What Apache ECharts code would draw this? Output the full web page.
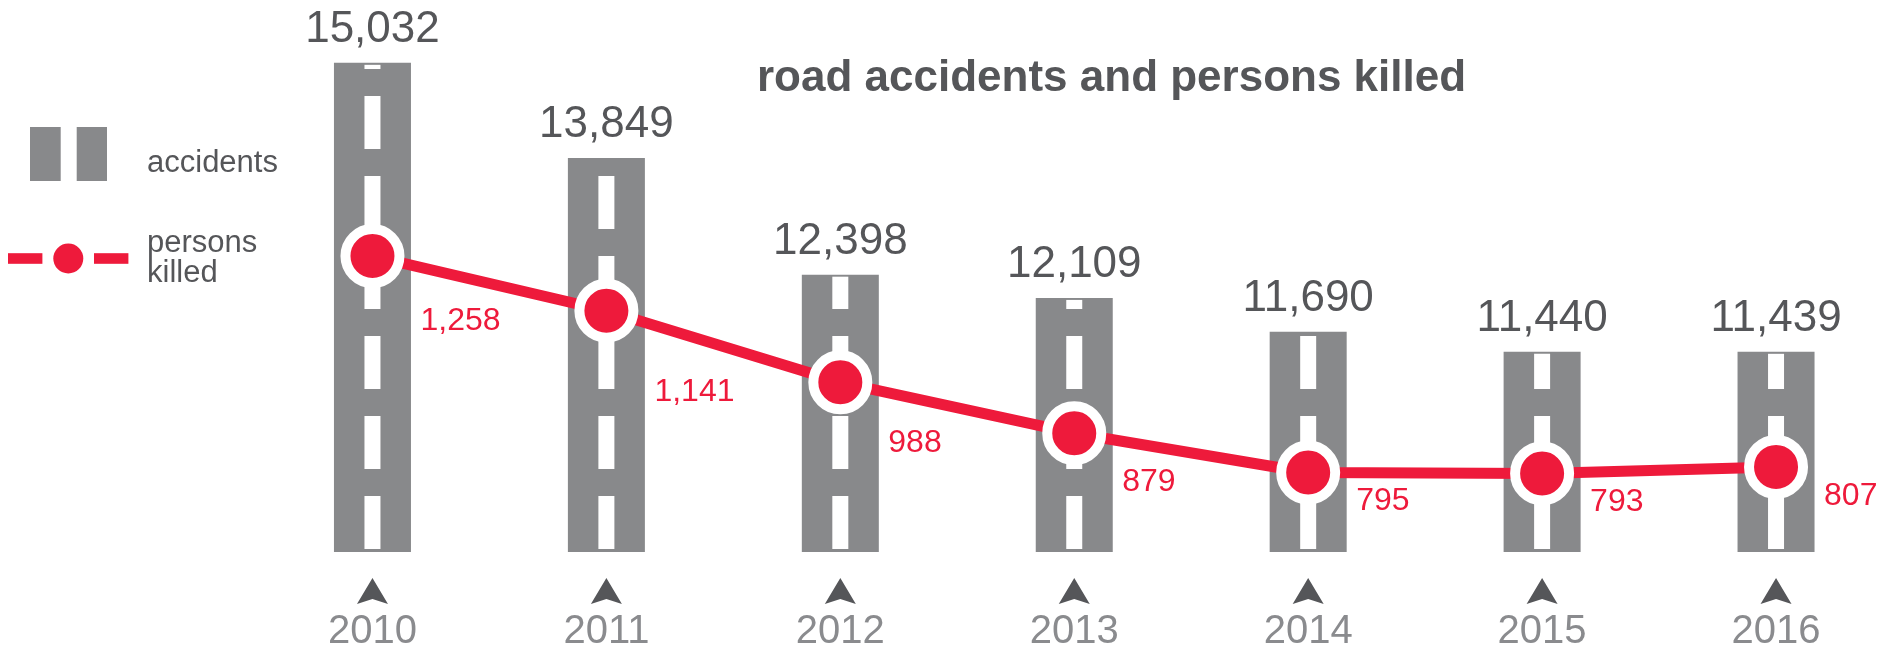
<!DOCTYPE html>
<html>
<head>
<meta charset="utf-8">
<script src="https://cdn.jsdelivr.net/npm/echarts@6/dist/echarts.min.js"></script>
<style>
  html, body { margin: 0; padding: 0; background: #fff; }
  #main { width: 1896px; height: 658px; }
</style>
</head>
<body>
<div id="main"></div>
<script>
var years = ['2010', '2011', '2012', '2013', '2014', '2015', '2016'];
var accidents = [15032, 13849, 12398, 12109, 11690, 11440, 11439];
var killed = [1258, 1141, 988, 879, 795, 793, 807];

var grey = '#88898b';
var red = '#ee1a3b';
var dark = '#555659';
var accMin = 8950, accMax = 15490;
var killMin = 625, killMax = 1750;

function fmt(v) { return v.toLocaleString('en-US'); }

function svgIcon(body) {
    return 'image://data:image/svg+xml;charset=utf-8,' + encodeURIComponent(
        '<svg xmlns="http://www.w3.org/2000/svg" width="134" height="54" viewBox="0 0 134 54">' + body + '</svg>');
}
var iconBar = svgIcon('<rect x="22" y="0" width="77" height="54" fill="' + grey + '"/>' +
    '<rect x="52.7" y="0" width="16" height="54" fill="#fff"/>');
var iconLine = svgIcon('<rect x="0" y="21.7" width="34.4" height="10.6" fill="' + red + '"/>' +
    '<circle cx="60.3" cy="27" r="15" fill="' + red + '"/>' +
    '<rect x="86" y="21.7" width="34.4" height="10.6" fill="' + red + '"/>');

// white lane marks inside each bar + the little arrow under each year
function renderRoad(params, api) {
    var top = api.coord([api.value(0), api.value(1)]);
    var base = api.coord([api.value(0), accMin]);
    var cx = top[0];
    var children = [];
    for (var end = base[1] - 3; end > top[1] + 2; end -= 80) {
        var start = Math.max(end - 53, top[1] + 2);
        children.push({
            type: 'rect',
            shape: { x: cx - 8, y: start, width: 16, height: end - start },
            style: { fill: '#fff' }
        });
    }
    var ay = base[1] + 26;
    children.push({
        type: 'polygon',
        shape: { points: [[cx, ay], [cx + 15.5, ay + 26], [cx, ay + 21], [cx - 15.5, ay + 26]] },
        style: { fill: dark }
    });
    return { type: 'group', children: children };
}

var myChart = echarts.init(document.getElementById('main'));

var option = {
    animation: false,
    backgroundColor: '#fff',
    title: {
        text: 'road accidents and persons killed',
        left: 752,
        top: 52,
        textStyle: {
            fontFamily: 'Liberation Sans',
            fontWeight: 'bold',
            fontSize: 44,
            color: dark
        }
    },
    legend: {
        orient: 'vertical',
        left: 8,
        top: 127,
        padding: 0,
        itemWidth: 134,
        itemHeight: 54,
        itemGap: 47,
        selectedMode: false,
        data: [
            { name: 'accidents', icon: iconBar },
            { name: 'persons\nkilled', icon: iconLine }
        ],
        formatter: function (name) {
            return name === 'accidents' ? '{lo|' + name + '}' : name;
        },
        textStyle: {
            fontFamily: 'Liberation Sans',
            fontSize: 31,
            lineHeight: 30,
            color: dark,
            rich: {
                lo: { fontSize: 31, lineHeight: 30, color: dark, padding: [18, 0, 0, 0] }
            }
        }
    },
    grid: { left: 255.5, right: 3, top: 26, bottom: 106 },
    xAxis: {
        type: 'category',
        data: years,
        axisLine: { show: false },
        axisTick: { show: false },
        axisLabel: {
            margin: 60,
            fontFamily: 'Liberation Sans',
            fontSize: 40,
            color: '#8a8b8e'
        }
    },
    yAxis: [
        { type: 'value', min: accMin, max: accMax, show: false },
        { type: 'value', min: killMin, max: killMax, show: false }
    ],
    series: [
        {
            name: 'accidents',
            type: 'bar',
            data: accidents,
            barWidth: 77,
            z: 2,
            itemStyle: { color: grey },
            label: {
                show: true,
                position: 'top',
                distance: 11,
                fontFamily: 'Liberation Sans',
                fontSize: 44,
                color: dark,
                formatter: function (p) { return fmt(p.value); }
            },
            emphasis: { disabled: true }
        },
        {
            name: 'road',
            type: 'custom',
            z: 3,
            silent: true,
            renderItem: renderRoad,
            encode: { x: 0, y: 1 },
            data: accidents.map(function (v, i) { return [i, v]; })
        },
        {
            id: 'killed',
            name: 'persons\nkilled',
            type: 'line',
            yAxisIndex: 1,
            z: 5,
            data: killed,
            symbol: 'circle',
            symbolSize: 54,
            lineStyle: { color: red, width: 11 },
            itemStyle: { color: red, borderColor: '#fff', borderWidth: 10 },
            label: {
                show: true,
                position: 'right',
                distance: 0,
                fontFamily: 'Liberation Sans',
                fontSize: 32,
                color: red,
                formatter: function (p) { return fmt(p.value); }
            },
            emphasis: { disabled: true }
        }
    ]
};

myChart.setOption(option);

// push each red label below the line, further down where the line falls steeply
var py = killed.map(function (v) { return myChart.convertToPixel({ yAxisIndex: 1 }, v); });
var lineData = killed.map(function (v, i) {
    var drop = i < killed.length - 1 ? py[i + 1] - py[i] : 0;
    return { value: v, label: { offset: [16, Math.max(29, drop + 10)] } };
});
myChart.setOption({ series: [{ id: 'killed', data: lineData }] });
</script>
</body>
</html>
